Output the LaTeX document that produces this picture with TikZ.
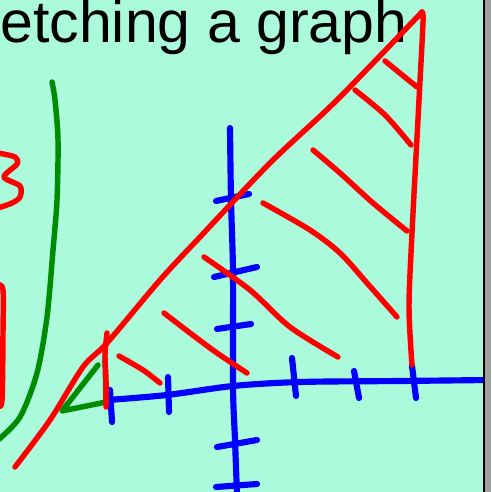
\documentclass[tikz,border=0pt]{standalone}
\usepackage{fontspec}
\setmainfont{Liberation Sans}
\usetikzlibrary{positioning}
\definecolor{MintBoard}{RGB}{171,250,220}
\definecolor{InkRed}{RGB}{255,0,0}
\definecolor{InkBlue}{RGB}{0,0,255}
\definecolor{InkGreen}{RGB}{0,140,0}
\definecolor{FrameGray}{RGB}{160,160,160}
\tikzset{
  redink/.style={draw=InkRed,line width=3.1pt,line cap=round,line join=round},
  blueink/.style={draw=InkBlue,line width=3.5pt,line cap=round,line join=round},
  greenink/.style={draw=InkGreen,line width=3.1pt,line cap=round,line join=round},
  titletext/.style={font=\fontsize{33.6}{38}\selectfont,inner sep=0pt,anchor=base west}
}
\begin{document}
\begin{tikzpicture}[x=0.02cm,y=-0.02cm]
  \useasboundingbox (0,0) rectangle (491,492);
  \fill[MintBoard] (0,0) rectangle (483,492);
  \fill[black] (483,0) rectangle (484.8,492);
  \fill[FrameGray] (484.8,0) rectangle (491,492);
  \clip (0,0) rectangle (483,492);
  \node[titletext] (title) at (0,43) {etching a graph};
  % green curve and small triangle
  \draw[greenink] plot[smooth] coordinates {(52,82) (55,100) (58,140) (57,200) (53,250) (47,317) (37,373) (20,417) (-2,440)};
  \draw[greenink] (98,365) -- (62,411) -- (106,402) -- (105,357);
  % axes
  \draw[blueink] plot[smooth] coordinates {(108,400) (167,395) (233,386) (300,382) (400,381) (490,380)};
  \draw[blueink] plot[smooth] coordinates {(230,128) (231,200) (233,273) (233,387) (235,440) (237,495)};
  \foreach \a/\b/\c/\d in {110/390/112/422, 168/377/169/412, 292/358/296/396,
      354/371/359/398, 412/366/416/398}
    \draw[blueink] (\a,\b) -- (\c,\d);
  \foreach \a/\b/\c/\d in {216/201/249/194, 214/277/257/267, 217/329/251/324,
      217/447/257/440, 216/487/257/484}
    \draw[blueink] (\a,\b) -- (\c,\d);
  % red region
  \draw[redink] plot[smooth] coordinates {(15,467) (50,420) (83,367) (107,343) (160,280) (200,237) (270,163) (337,100) (422,12)};
  \draw[redink] plot[smooth] coordinates {(422,12) (423,22) (419,100) (412,233) (409,307) (412,365)};
  \draw[redink] plot[smooth] coordinates {(107,333) (105,355) (106,380) (106,407)};
  \draw[redink] (385,61) -- (417,87);
  \draw[redink] plot[smooth] coordinates {(355,90) (385,115) (411,145)};
  \draw[redink] plot[smooth] coordinates {(313,150) (340,173) (373,203) (407,231)};
  \draw[redink] plot[smooth] coordinates {(263,203) (310,230) (340,253) (367,283) (397,317)};
  \draw[redink] plot[smooth] coordinates {(204,257) (250,290) (290,327) (338,357)};
  \draw[redink] plot[smooth] coordinates {(164,313) (190,333) (217,353) (247,373)};
  \draw[redink] plot[smooth] coordinates {(119,356) (143,370) (160,383)};
  % scribbles at the left edge
  \draw[redink] plot[smooth] coordinates {(-2,153) (15,157) (17,164) (4,177) (20,186) (20,197) (12,203) (-2,208)};
  \draw[redink] plot[smooth] coordinates {(-2,285) (3,290) (3,333) (2,400) (-2,406)};
\end{tikzpicture}
\end{document}
